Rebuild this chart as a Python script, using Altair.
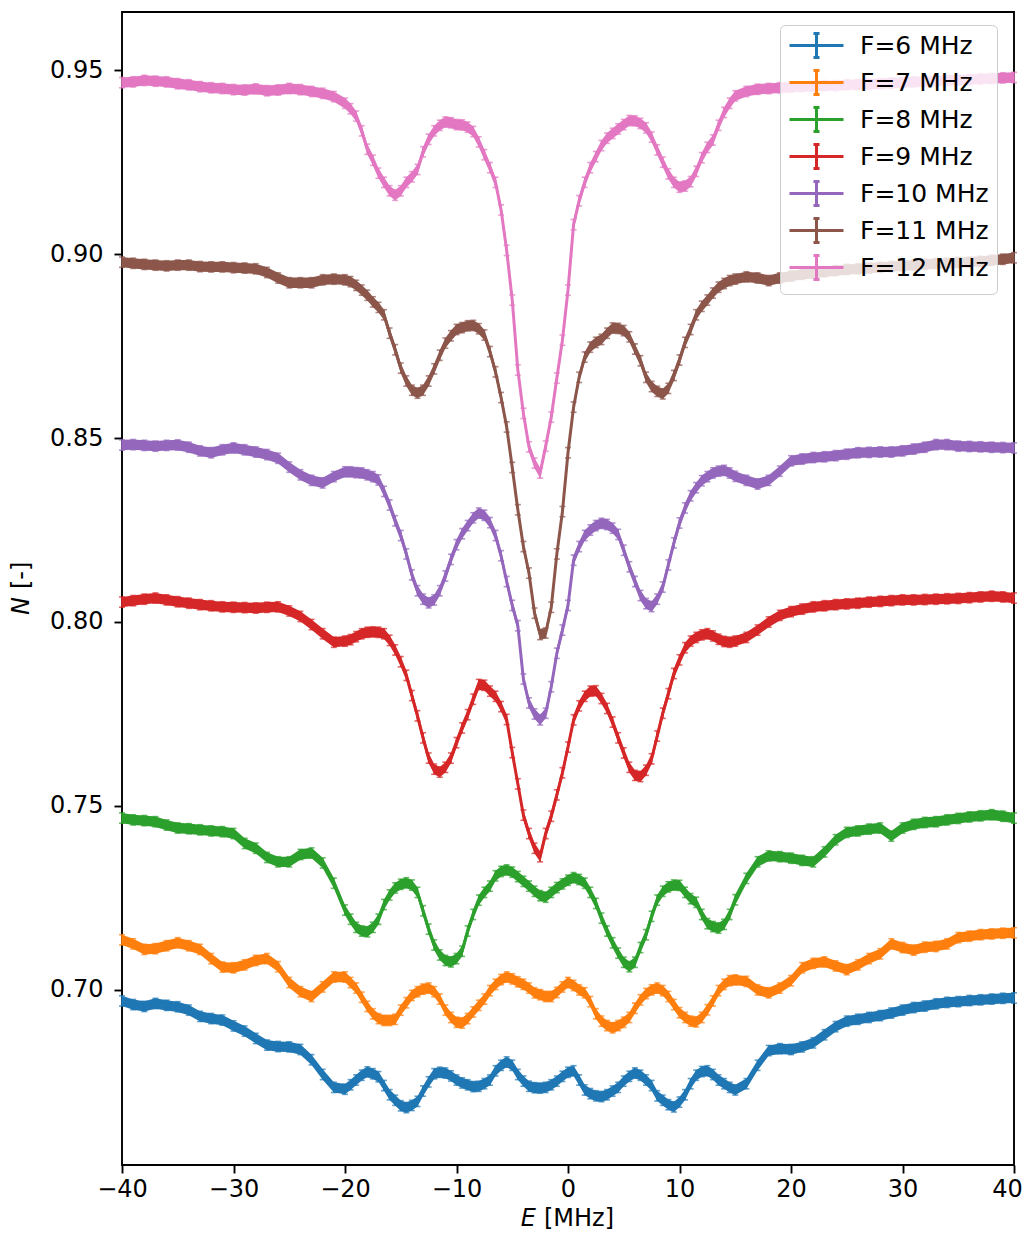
import altair as alt
import pandas as pd

# ---------------- data ----------------
E = [-40, -39, -38, -37, -36, -35, -34, -33, -32, -31, -30, -29, -28, -27, -26, -25, -24, -23, -22, -21,
     -20, -19.5, -19, -18.5, -18, -17.5, -17, -16.5, -16, -15.5,
     -15, -14.5, -14, -13.5, -13, -12.5, -12, -11.5, -11, -10.5,
     -10, -9.5, -9, -8.5, -8, -7.5, -7, -6.5, -6, -5.5,
     -5, -4.5, -4, -3.5, -3, -2.5, -2, -1.5, -1, -0.5,
     0, 0.5, 1, 1.5, 2, 2.5, 3, 3.5, 4, 4.5,
     5, 5.5, 6, 6.5, 7, 7.5, 8, 8.5, 9, 9.5,
     10, 10.5, 11, 11.5, 12, 12.5, 13, 13.5, 14, 14.5,
     15,
     16, 17, 18, 19, 20, 21, 22, 23, 24, 25, 26, 27, 28, 29, 30, 31, 32, 33, 34, 35, 36, 37, 38, 39, 40]

N6 = [.6970, .6960, .6955, .6963, .6958, .6954, .6945, .6928, .6922, .6918, .6902, .6888, .6868, .6850, .6846, .6845, .6838, .6810, .6770, .6735,
      .6730, .6742, .6755, .6768, .6777, .6772, .6764, .6740, .6715, .6700,
      .6685, .6680, .6686, .6697, .6725, .6750, .6772, .6776, .6774, .6766,
      .6755, .6747, .6742, .6737, .6738, .6745, .6755, .6780, .6795, .6804,
      .6795, .6770, .6752, .6738, .6734, .6733, .6735, .6742, .6752, .6765,
      .6776, .6780, .6755, .6728, .6718, .6712, .6710, .6715, .6725, .6735,
      .6752, .6765, .6774, .6768, .6755, .6740, .6712, .6700, .6688, .6682,
      .6695, .6715, .6745, .6768, .6778, .6780, .6770, .6755, .6745, .6735,
      .6728,
      .6745, .6795, .6835, .6840, .6838, .6845, .6856, .6878, .6900, .6915, .6920, .6925, .6930, .6937, .6945, .6952, .6956, .6962, .6966, .6968, .6971, .6973, .6975, .6977, .6978]

N7 = [.7136, .7125, .7110, .7112, .7120, .7128, .7120, .7110, .7085, .7062, .7060, .7068, .7080, .7085, .7063, .7020, .6995, .6982, .7008, .7035,
      .7035, .7020, .7005, .6980, .6955, .6935, .6922, .6917, .6917, .6920,
      .6945, .6965, .6985, .6995, .7002, .7005, .6995, .6975, .6945, .6925,
      .6912, .6910, .6922, .6940, .6958, .6975, .6998, .7015, .7028, .7035,
      .7030, .7022, .7015, .7005, .6992, .6987, .6982, .6982, .6993, .7008,
      .7020, .7012, .7000, .6992, .6968, .6935, .6915, .6903, .6897, .6903,
      .6912, .6925, .6950, .6973, .6990, .7000, .7005, .6998, .6982, .6960,
      .6938, .6925, .6915, .6913, .6925, .6946, .6970, .6998, .7015, .7025,
      .7027,
      .7023, .7000, .6992, .7005, .7025, .7060, .7072, .7076, .7065, .7055, .7068, .7085, .7098, .7125, .7115, .7108, .7116, .7118, .7125, .7142, .7146, .7150, .7152, .7154, .7155]

N8 = [.7467, .7462, .7460, .7457, .7448, .7440, .7438, .7435, .7432, .7430, .7425, .7398, .7385, .7360, .7348, .7348, .7368, .7372, .7345, .7290,
      .7217, .7192, .7170, .7160, .7158, .7170, .7192, .7232, .7258, .7277,
      .7287, .7291, .7285, .7265, .7215, .7165, .7122, .7095, .7080, .7076,
      .7085, .7105, .7160, .7205, .7244, .7265, .7282, .7310, .7322, .7326,
      .7320, .7308, .7295, .7282, .7268, .7256, .7252, .7265, .7278, .7288,
      .7298, .7305, .7300, .7290, .7265, .7235, .7195, .7160, .7128, .7100,
      .7075, .7063, .7075, .7115, .7150, .7200, .7244, .7268, .7280, .7285,
      .7284, .7265, .7248, .7238, .7205, .7180, .7172, .7168, .7178, .7205,
      .7245,
      .7303, .7348, .7364, .7362, .7358, .7352, .7348, .7375, .7408, .7428, .7432, .7437, .7440, .7418, .7440, .7450, .7455, .7457, .7462, .7466, .7470, .7473, .7476, .7472, .7467]

N9 = [.8054, .8058, .8062, .8065, .8060, .8055, .8051, .8047, .8044, .8041, .8040, .8039, .8038, .8040, .8041, .8030, .8015, .7993, .7968, .7945,
      .7948, .7952, .7960, .7968, .7972, .7973, .7972, .7968, .7950, .7924,
      .7892, .7855, .7800, .7745, .7685, .7630, .7600, .7592, .7605, .7630,
      .7672, .7712, .7748, .7790, .7830, .7828, .7812, .7798, .7770, .7735,
      .7645, .7560, .7475, .7425, .7385, .7362, .7425, .7472, .7530, .7590,
      .7660, .7734, .7772, .7798, .7812, .7813, .7792, .7765, .7728, .7685,
      .7644, .7605, .7583, .7580, .7597, .7628, .7690, .7752, .7805, .7860,
      .7897, .7930, .7948, .7958, .7965, .7968, .7962, .7953, .7947, .7945,
      .7948,
      .7958, .7978, .8000, .8018, .8028, .8035, .8041, .8044, .8047, .8049, .8051, .8054, .8056, .8058, .8060, .8060, .8061, .8062, .8063, .8064, .8066, .8068, .8070, .8068, .8065]

N10 = [.8481, .8482, .8480, .8478, .8480, .8481, .8475, .8465, .8460, .8468, .8473, .8468, .8462, .8455, .8445, .8421, .8400, .8385, .8378, .8395,
       .8408, .8408, .8406, .8405, .8400, .8395, .8386, .8355, .8318, .8275,
       .8235, .8185, .8128, .8085, .8062, .8052, .8060, .8085, .8125, .8170,
       .8210, .8240, .8262, .8283, .8296, .8290, .8270, .8235, .8180, .8110,
       .8045, .7990, .7845, .7780, .7750, .7734, .7752, .7824, .7915, .7978,
       .8045, .8168, .8205, .8235, .8250, .8262, .8268, .8265, .8255, .8238,
       .8195, .8150, .8110, .8072, .8050, .8042, .8062, .8095, .8155, .8215,
       .8269, .8310, .8343, .8365, .8384, .8395, .8405, .8410, .8412, .8405,
       .8396,
       .8385, .8375, .8385, .8410, .8438, .8443, .8447, .8449, .8452, .8456, .8460, .8461, .8462, .8462, .8465, .8470, .8475, .8482, .8482, .8478, .8477, .8476, .8475, .8474, .8473]

N11 = [.8978, .8975, .8972, .8970, .8968, .8970, .8970, .8966, .8965, .8965, .8963, .8962, .8960, .8950, .8935, .8922, .8922, .8922, .8930, .8932,
       .8930, .8925, .8915, .8902, .8888, .8870, .8855, .8835, .8785, .8740,
       .8690, .8655, .8630, .8622, .8630, .8655, .8688, .8725, .8758, .8778,
       .8795, .8800, .8805, .8806, .8797, .8780, .8735, .8680, .8610, .8530,
       .8420, .8305, .8205, .8133, .8024, .7966, .7970, .8040, .8185, .8300,
       .8460, .8584, .8665, .8720, .8747, .8760, .8768, .8785, .8799, .8798,
       .8792, .8775, .8742, .8710, .8665, .8640, .8627, .8620, .8635, .8670,
       .8712, .8760, .8795, .8835, .8858, .8875, .8894, .8910, .8920, .8928,
       .8932,
       .8938, .8935, .8928, .8935, .8940, .8945, .8948, .8952, .8955, .8958, .8960, .8962, .8964, .8966, .8968, .8970, .8972, .8974, .8975, .8977, .8978, .8980, .8983, .8986, .8990]

N12 = [.9466, .9468, .9472, .9470, .9468, .9463, .9460, .9455, .9452, .9450, .9447, .9446, .9449, .9444, .9446, .9450, .9447, .9442, .9437, .9428,
       .9410, .9395, .9375, .9335, .9285, .9255, .9220, .9195, .9172, .9160,
       .9172, .9195, .9210, .9230, .9278, .9312, .9335, .9350, .9359, .9357,
       .9352, .9351, .9345, .9333, .9305, .9270, .9235, .9195, .9120, .9010,
       .8875, .8685, .8567, .8476, .8432, .8405, .8478, .8557, .8663, .8766,
       .8902, .9080, .9145, .9195, .9235, .9265, .9295, .9315, .9328, .9340,
       .9352, .9363, .9362, .9355, .9343, .9318, .9283, .9250, .9218, .9195,
       .9182, .9185, .9197, .9225, .9262, .9290, .9310, .9350, .9385, .9410,
       .9430,
       .9442, .9448, .9450, .9452, .9454, .9455, .9456, .9458, .9458, .9460, .9461, .9462, .9463, .9465, .9466, .9468, .9469, .9470, .9472, .9473, .9474, .9476, .9477, .9479, .9480]

LABELS = ["F=6 MHz", "F=7 MHz", "F=8 MHz", "F=9 MHz", "F=10 MHz", "F=11 MHz", "F=12 MHz"]
COLORS = ["#1f77b4", "#ff7f0e", "#2ca02c", "#d62728", "#9467bd", "#8c564b", "#e377c2"]
ERRS = [0.0014, 0.0014, 0.0014, 0.0014, 0.0014, 0.0014, 0.0014]

X_TICKS = [-40, -30, -20, -10, 0, 10, 20, 30, 40]
Y_TICKS = [0.70, 0.75, 0.80, 0.85, 0.90, 0.95]
X_DOMAIN = [-40, 40]
Y_DOMAIN = [0.6524, 0.9658]

SERIES = [N6, N7, N8, N9, N10, N11, N12]
for s in SERIES:
    assert len(s) == len(E), len(s)

rows = []
for k, (lab, vals, err) in enumerate(zip(LABELS, SERIES, ERRS)):
    for e, v in zip(E, vals):
        rows.append({"E": e, "N": v, "lo": v - err, "hi": v + err, "F": lab, "k": k})
df = pd.DataFrame(rows)

FONT = "DejaVu Sans"
FS = 24
SYMBOL = "M-2.7,0H2.7M0,-1.2V1.2M-0.3,-1.2H0.3M-0.3,1.2H0.3"

legend = alt.Legend(
    title=None, orient="none", legendX=658, legendY=13, direction="vertical",
    symbolType=SYMBOL, symbolSize=400, symbolStrokeWidth=3, symbolFillColor="transparent",
    symbolOffset=16, labelOffset=31, padding=8, rowPadding=0,
    labelFont=FONT, labelFontSize=25, labelColor="black",
    fillColor="rgba(255,255,255,0.8)", strokeColor="#cccccc", cornerRadius=5,
)
color = alt.Color("F:N", scale=alt.Scale(domain=LABELS, range=COLORS), legend=legend)

xscale = alt.Scale(domain=X_DOMAIN, nice=False, zero=False)
yscale = alt.Scale(domain=Y_DOMAIN, nice=False, zero=False)
xaxis = alt.Axis(values=X_TICKS, format="d", title=None, labelFlush=False, labelOverlap=False,
                 labelPadding=4,
                 labelOffset={"condition": {"test": "datum.value == 40", "value": -7}, "value": 0})
yaxis = alt.Axis(values=Y_TICKS, format=".2f", title=None, labelOverlap=False, labelPadding=11)

x = alt.X("E:Q", scale=xscale, axis=xaxis)

base = alt.Chart(df)
band = base.mark_area(opacity=1, strokeWidth=0).encode(
    x=x, y=alt.Y("lo:Q", scale=yscale, axis=yaxis), y2="hi:Q", color=color)
rules = base.mark_rule(strokeWidth=1.6).encode(
    x=x, y=alt.Y("lo:Q", scale=yscale, axis=yaxis), y2="hi:Q", color=color)
line = base.mark_line(strokeWidth=3).encode(
    x=x, y=alt.Y("N:Q", scale=yscale, axis=yaxis), color=color)
cap_lo = base.mark_tick(orient="horizontal", size=6, thickness=1.6).encode(
    x=x, y=alt.Y("lo:Q", scale=yscale, axis=yaxis), color=color)
cap_hi = base.mark_tick(orient="horizontal", size=6, thickness=1.6).encode(
    x=x, y=alt.Y("hi:Q", scale=yscale, axis=yaxis), color=color)


def label(text, **kw):
    return alt.Chart(pd.DataFrame({"t": [text]})).mark_text(
        font=FONT, fontSize=FS, color="black", **kw
    ).encode(text="t:N")


xt1 = label("E", fontStyle="italic", align="right", baseline="alphabetic").encode(
    x=alt.value(414), y=alt.value(1213.5))
xt2 = label("[MHz]", align="left", baseline="alphabetic").encode(
    x=alt.value(422), y=alt.value(1213.5))
yt1 = label("N", fontStyle="italic", align="right", baseline="middle", angle=270).encode(
    x=alt.value(-100), y=alt.value(585))
yt2 = label("[-]", align="left", baseline="middle", angle=270).encode(
    x=alt.value(-100), y=alt.value(577))

chart = alt.layer(band, rules, line, cap_lo, cap_hi, xt1, xt2, yt1, yt2).properties(
    width=892, height=1153,
    padding={"left": 114, "top": 4, "right": 10, "bottom": 66},
    autosize=alt.AutoSizeParams(type="none"),
).configure_view(
    stroke="black", strokeWidth=1.9
).configure_axis(
    labelFont=FONT, labelFontSize=FS, labelColor="black",
    tickColor="black", tickWidth=1.9, tickSize=8,
    domain=False, grid=False,
)

chart.save("out.html", embed_options={"renderer": "svg", "actions": False})
